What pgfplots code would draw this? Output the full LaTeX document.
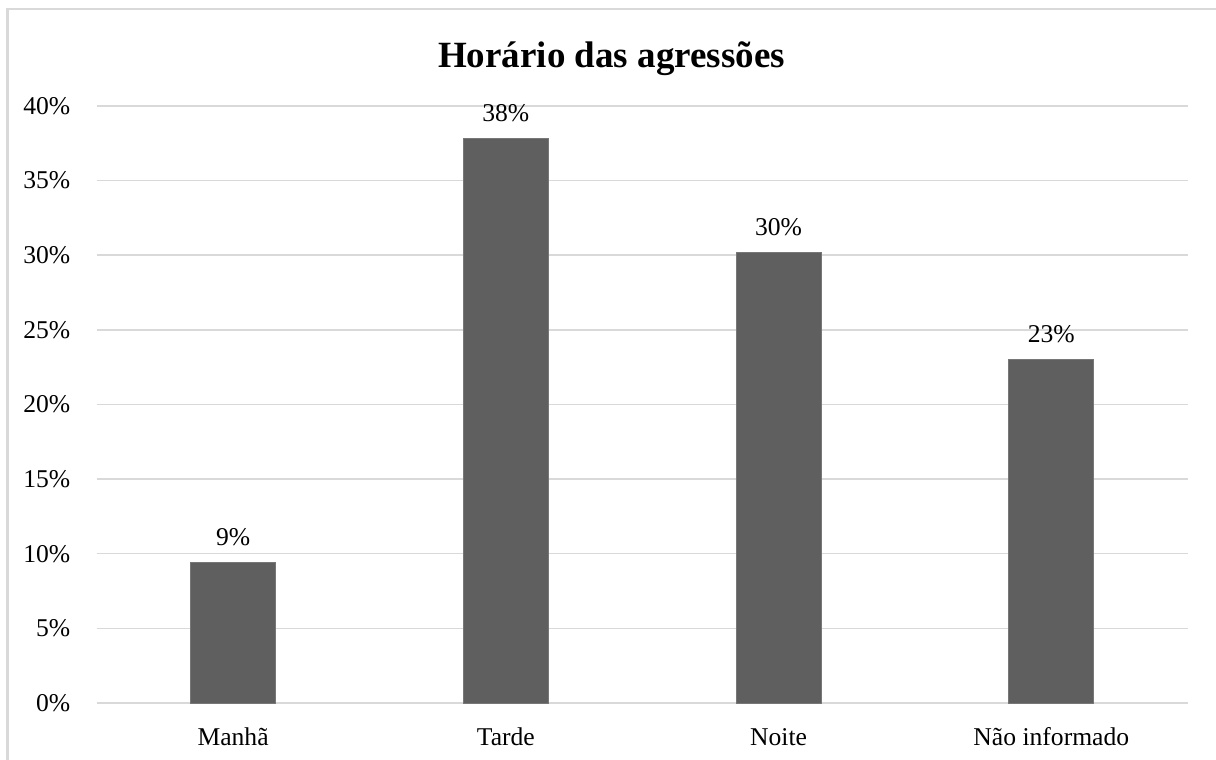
\documentclass[border=0pt]{standalone}
\usepackage{pgfplots}
\pgfplotsset{compat=1.18}
\usepackage{fontspec}
\setmainfont{Liberation Serif}
\definecolor{barc}{HTML}{5F5F5F}
\definecolor{gridc}{HTML}{D9D9D9}
\begin{document}
\begin{tikzpicture}[x=1pt,y=1pt]
\useasboundingbox (0,0) rectangle (608,380);
\draw[gridc, line width=1.2pt] (3.75,-10) rectangle (620,375.5);
\node[font=\fontsize{18.5pt}{22pt}\selectfont\bfseries] at (305.75,350.5) {Horário das agressões};
\begin{axis}[
  at={(48.35pt,28.5pt)}, anchor=south west,
  scale only axis, width=545.5pt, height=298.5pt,
  xmin=-0.5, xmax=3.5, ymin=0, ymax=40,
  xtick={0,1,2,3},
  xticklabels={Manhã,Tarde,Noite,Não informado},
  ytick={0,5,10,15,20,25,30,35,40},
  yticklabels={0\%,5\%,10\%,15\%,20\%,25\%,30\%,35\%,40\%},
  ymajorgrids, major grid style={gridc, line width=0.75pt},
  axis line style={draw=none},
  tick style={draw=none},
  tick label style={font=\fontsize{12.8pt}{15pt}\selectfont, text=black},
  yticklabel style={anchor=east, inner sep=0pt, xshift=-13pt},
  xticklabel style={anchor=base, inner sep=0pt, yshift=-21.5pt},
  enlargelimits=false,
  clip=false,
]
\addplot[ybar, bar width=42.5pt, fill=barc, draw=barc!85!white, line width=0.4pt,
  point meta=explicit symbolic,
  nodes near coords,
  every node near coord/.append style={anchor=base, yshift=8.5pt, inner sep=0pt,
    font=\fontsize{12.8pt}{15pt}\selectfont, text=black}]
  coordinates {(0,9.4) [9\%] (1,37.8) [38\%] (2,30.2) [30\%] (3,23.0) [23\%]};
\end{axis}
\end{tikzpicture}
\end{document}
